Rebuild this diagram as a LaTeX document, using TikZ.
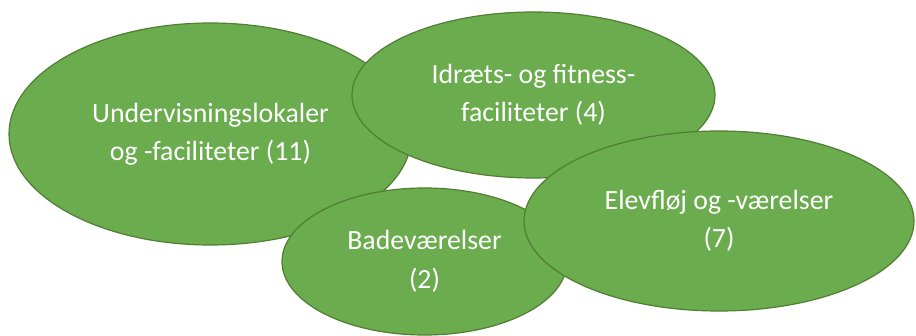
\documentclass[tikz,border=0pt]{standalone}
\usepackage{fontspec}
\setmainfont{Carlito}
\usetikzlibrary{shapes.geometric}
\definecolor{leaf}{HTML}{6AAC4E}
\definecolor{leafline}{HTML}{507E32}
\tikzset{
  blob/.style={ellipse, fill=leaf, draw=leafline, line width=1.2pt, inner sep=0pt,
    text=white, align=center, font=\fontsize{27.8}{38.5}\selectfont}
}
\begin{document}
\begin{tikzpicture}[x=1pt,y=-1pt]
\useasboundingbox (0,0) rectangle (916,336);
\node[blob, minimum width=403pt, minimum height=222pt] (undervisning) at (210.5,134) {Undervisningslokaler\\og -faciliteter (11)};
\node[blob, minimum width=363pt, minimum height=166pt] (idraet) at (533.5,95) {Idræts- og fitness-\\faciliteter (4)};
\node[blob, minimum width=285pt, minimum height=147pt] (bad) at (424.5,261.5) {Badeværelser\\(2)};
\node[blob, minimum width=390pt, minimum height=180pt] (elev) at (719,221) {Elevfløj og -værelser\\(7)};
\end{tikzpicture}
\end{document}
